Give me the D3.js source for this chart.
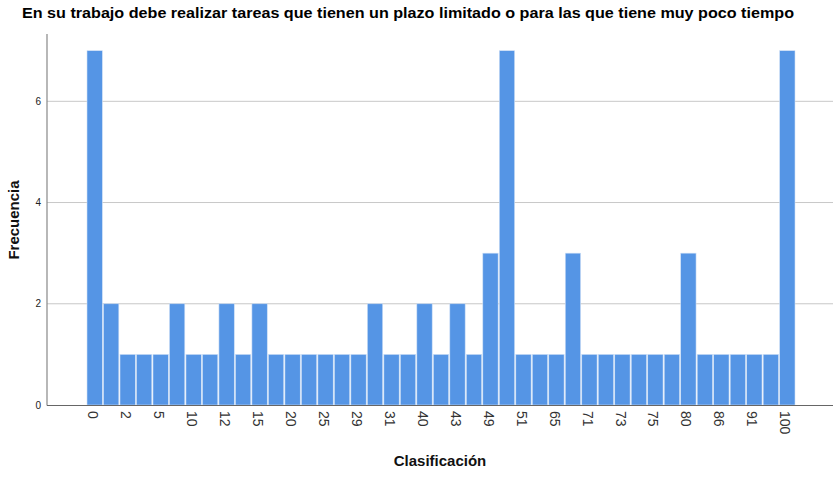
<!DOCTYPE html>
<html><head><meta charset="utf-8">
<script src="https://cdn.jsdelivr.net/npm/d3@7"></script>
<style>body{margin:0;background:#fff}svg{display:block}</style>
</head><body>
<svg id="c" width="833" height="477"></svg>
<script>
const title = "En su trabajo debe realizar tareas que tienen un plazo limitado o para las que tiene muy poco tiempo";
const categories = ["0","1","2","3","5","8","10","11","12","14","15","18","20","24","25","28","29","30","31","35","40","42","43","45","49","50","51","60","65","70","71","72","73","74","75","78","80","85","86","90","91","95","100"];
const counts = [7,2,1,1,1,2,1,1,2,1,2,1,1,1,1,1,1,2,1,1,2,1,2,1,3,7,1,1,1,3,1,1,1,1,1,1,3,1,1,1,1,1,7];
const yTicks = [0,2,4,6];
const xLabel = "Clasificación", yLabel = "Frecuencia";

const svg = d3.select("#c");
const L = 47, R = 833, T = 34, B = 405;
const x = d3.scaleBand().domain(categories).range([87, 795]).paddingInner(0.07);
const y = d3.scaleLinear().domain([0, 7.33]).range([B, T]);

svg.append("g").selectAll("line").data(yTicks.filter(d=>d>0)).join("line")
  .attr("x1", L).attr("x2", R).attr("y1", d=>y(d)).attr("y2", d=>y(d))
  .attr("stroke", "#c8c8c8").attr("stroke-width", 1);

svg.append("g").selectAll("rect").data(counts).join("rect")
  .attr("x", (d,i)=>x(categories[i])).attr("width", x.bandwidth())
  .attr("y", d=>y(d)).attr("height", d=>B - y(d))
  .attr("fill", "#5595e5").attr("stroke", "#cfe0f6").attr("stroke-width", 0.6);

svg.append("line").attr("x1", L).attr("x2", L).attr("y1", T).attr("y2", B+0.5).attr("stroke", "#888").attr("stroke-width", 1.2);
svg.append("line").attr("x1", L).attr("x2", R).attr("y1", B+0.5).attr("y2", B+0.5).attr("stroke", "#666").attr("stroke-width", 1.2);

svg.append("g").selectAll("text").data(yTicks).join("text")
  .attr("x", 41).attr("y", d=>y(d)).attr("dy", "0.35em").attr("text-anchor", "end")
  .attr("font-family", "Liberation Sans, Arial, sans-serif").attr("font-size", 10).attr("fill", "#222")
  .text(d=>d);

svg.append("g").selectAll("text").data(categories.filter((d,i)=>i%2===0)).join("text")
  .attr("transform", d=>`translate(${x(d)+x.bandwidth()/2-2},${411}) rotate(90)`)
  .attr("dy", "0.35em").attr("text-anchor", "start")
  .attr("font-family", "Liberation Sans, Arial, sans-serif").attr("font-size", 14).attr("fill", "#333")
  .text(d=>d);

svg.append("text").attr("x", 408).attr("y", 18).attr("text-anchor", "middle")
  .attr("font-family", "Liberation Sans, Arial, sans-serif").attr("font-weight", "bold").attr("font-size", 15.5).attr("fill", "#000")
  .attr("textLength", 772).attr("lengthAdjust", "spacingAndGlyphs")
  .text(title);
svg.append("text").attr("x", 440).attr("y", 466).attr("text-anchor", "middle")
  .attr("font-family", "Liberation Sans, Arial, sans-serif").attr("font-weight", "bold").attr("font-size", 15).attr("fill", "#111")
  .text(xLabel);
svg.append("text").attr("transform", "translate(19,220) rotate(-90)").attr("text-anchor", "middle")
  .attr("font-family", "Liberation Sans, Arial, sans-serif").attr("font-weight", "bold").attr("font-size", 15).attr("fill", "#111")
  .text(yLabel);
</script>
</body></html>
